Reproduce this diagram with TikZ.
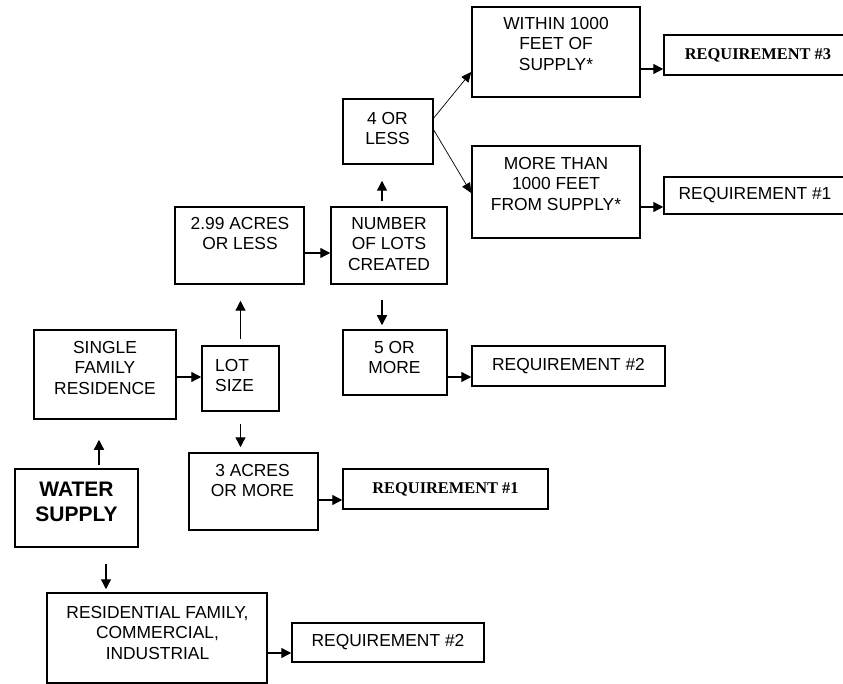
\documentclass[tikz,border=0pt]{standalone}
\usepackage{fontspec}
\setmainfont{Liberation Sans}
\newfontfamily\reqserif{Liberation Serif}
\usetikzlibrary{arrows.meta}
\begin{document}
\begin{tikzpicture}[x=1pt,y=-1pt,
  box/.style={draw, line width=1.5pt, inner sep=0pt},
  txt/.style={font=\fontsize{17.4}{20.5}\selectfont, align=center, inner sep=0pt, anchor=north},
  reqs/.style={box, font=\fontsize{17.4}{20.5}\selectfont},
  reqt/.style={box, font=\reqserif\bfseries\fontsize{16.4}{19}\selectfont},
  arr/.style={line width=1.3pt, -{Triangle[length=10pt,width=10pt]}},
  darr/.style={line width=0.7pt, -{Triangle[length=10pt,width=9pt]}},
]
\useasboundingbox (0,0) rectangle (843,684);
\clip (0,0) rectangle (843,684);

% boxes
\node[box, minimum width=123pt, minimum height=78pt] (water) at (76.5,508) {};
\node[box, minimum width=142pt, minimum height=89pt] (sfr) at (105,374.5) {};
\node[box, minimum width=220pt, minimum height=90pt] (res) at (157,638) {};
\node[box, minimum width=77pt, minimum height=65pt] (lot) at (240.5,378.5) {};
\node[box, minimum width=129pt, minimum height=77pt] (small) at (239.5,245.5) {};
\node[box, minimum width=129pt, minimum height=77pt] (large) at (253.5,491.5) {};
\node[box, minimum width=116pt, minimum height=77pt] (num) at (389,245.5) {};
\node[box, minimum width=90pt, minimum height=65pt] (four) at (388,131.5) {};
\node[box, minimum width=104pt, minimum height=65pt] (five) at (395,362.5) {};
\node[box, minimum width=168pt, minimum height=90pt] (within) at (556,52) {};
\node[box, minimum width=168pt, minimum height=92pt] (more) at (556,192) {};

% box texts
\node[font=\bfseries\fontsize{21}{25}\selectfont, align=center, inner sep=0pt, anchor=north] (waterT) at (76.5,481.5) {WATER\\SUPPLY};
\node[txt] (sfrT) at (105,341) {SINGLE\\FAMILY\\RESIDENCE};
\node[txt] (resT) at (157.5,606) {RESIDENTIAL FAMILY,\\COMMERCIAL,\\INDUSTRIAL};
\node[txt, align=left, anchor=north west] (lotT) at (215,359) {LOT\\SIZE};
\node[txt] (smallT) at (240,217) {2.99 ACRES\\OR LESS};
\node[txt] (largeT) at (252.5,464) {3 ACRES\\OR MORE};
\node[txt] (numT) at (389,217) {NUMBER\\OF LOTS\\CREATED};
\node[txt] (fourT) at (387.5,112) {4 OR\\LESS};
\node[txt] (fiveT) at (394.5,341) {5 OR\\MORE};
\node[txt] (withinT) at (556,17) {WITHIN 1000\\FEET OF\\SUPPLY*};
\node[txt] (moreT) at (556,157) {MORE THAN\\1000 FEET\\FROM SUPPLY*};

% requirement boxes
\node[reqt, minimum width=188pt, minimum height=40pt] (req3) at (758,55) {REQUIREMENT \#3};
\node[reqs, minimum width=182pt, minimum height=37pt] (req1a) at (755,195.5) {REQUIREMENT \#1};
\node[reqs, minimum width=193pt, minimum height=40pt] (req2a) at (568.5,366) {REQUIREMENT \#2};
\node[reqt, minimum width=205pt, minimum height=40pt] (req1b) at (445.5,489) {REQUIREMENT \#1};
\node[reqs, minimum width=192pt, minimum height=39pt] (req2b) at (388,642.5) {REQUIREMENT \#2};

% vertical arrows
\draw[arr, shorten <=3pt, shorten >=20pt] ([xshift=22.5pt]water.north) -- ([xshift=22.5pt]water.north |- sfr.south);
\draw[arr, shorten <=16pt, shorten >=3pt] ([xshift=29.5pt]water.south) -- ([xshift=29.5pt]water.south |- res.north);
\draw[arr, shorten <=6pt, shorten >=16pt] (lot.north) -- (lot.north |- small.south);
\draw[arr, shorten <=12pt, shorten >=5pt] (lot.south) -- (lot.south |- large.north);
\draw[arr, shorten <=5pt, shorten >=16pt] ([xshift=-7pt]num.north) -- ([xshift=-7pt]num.north |- four.south);
\draw[arr, shorten <=15pt, shorten >=4pt] ([xshift=-7pt]num.south) -- ([xshift=-7pt]num.south |- five.north);

% horizontal arrows
\draw[arr] ([yshift=-2.5pt]sfr.east) -- ([yshift=-2.5pt]sfr.east -| lot.west);
\draw[arr] ([yshift=-7.5pt]small.east) -- ([yshift=-7.5pt]small.east -| num.west);
\draw[arr] ([yshift=-8.5pt]large.east) -- ([yshift=-8.5pt]large.east -| req1b.west);
\draw[arr] ([yshift=-14.5pt]five.east) -- ([yshift=-14.5pt]five.east -| req2a.west);
\draw[arr] ([yshift=-17pt]within.east) -- ([yshift=-17pt]within.east -| req3.west);
\draw[arr] ([yshift=-15pt]more.east) -- ([yshift=-15pt]more.east -| req1a.west);
\draw[arr] ([yshift=-15pt]res.east) -- ([yshift=-15pt]res.east -| req2b.west);

% diagonal arrows
\draw[darr] ([yshift=13.5pt]four.east) -- ([yshift=-20pt]within.west);
\draw[darr] ([yshift=1.5pt]four.east) -- ([yshift=-1pt]more.west);
\end{tikzpicture}
\end{document}
